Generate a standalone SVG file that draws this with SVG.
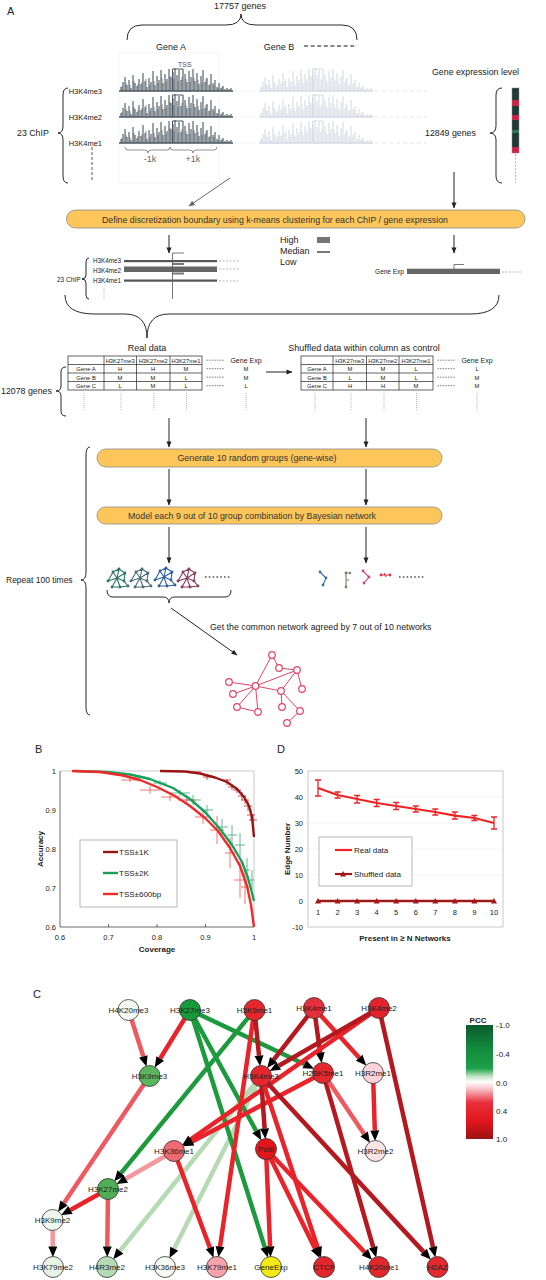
<svg xmlns="http://www.w3.org/2000/svg" xmlns:xlink="http://www.w3.org/1999/xlink" width="546" height="1280" viewBox="0 0 546 1280">
<style>
text{font-family:"Liberation Sans",Arial,sans-serif;fill:#222}
.f9{font-size:9px}
.f88{font-size:8.8px}
.f75{font-size:7.5px}
.f8{font-size:8px}
.f6{font-size:6px}
.b{font-weight:bold}
.m{text-anchor:middle}
.en{text-anchor:end}
.lbl{font-size:11px}
.box{fill:#fdc65a;stroke:#8c8c8c;stroke-width:0.8}
.ar{stroke:#222;stroke-width:1;fill:none;marker-end:url(#ak)}
.br{fill:none;stroke:#111;stroke-width:0.9}
.tb{fill:#fff;stroke:#222;stroke-width:0.7}
.dot{stroke:#888;stroke-width:0.6;stroke-dasharray:1,1;fill:none}
.dsh{stroke:#333;stroke-width:0.6;stroke-dasharray:1.6,1;fill:none}
.e{stroke-width:4.5;fill:none;marker-end:url(#ah)}
.dr{stroke:#b3191e}.r{stroke:#e8242a}.lr{stroke:#ee5a62}.pk{stroke:#f5979d}.g{stroke:#1d9a3e}.lg{stroke:#b6dbb4}
.n circle{stroke:#333;stroke-width:0.8}
.n text{font-size:8px;text-anchor:middle;fill:#222}
.net line{stroke:#e04466;stroke-width:1}
.net circle{fill:#fff;stroke:#e04466;stroke-width:1.2}
.eb{fill:none;stroke-width:0.8}
</style>
<defs>
<marker id="ak" markerUnits="userSpaceOnUse" markerWidth="6" markerHeight="5" refX="5.5" refY="2.5" orient="auto" overflow="visible"><path d="M0,0L6,2.5L0,5z" fill="#222"/></marker>
<marker id="akg" markerUnits="userSpaceOnUse" markerWidth="6" markerHeight="5" refX="5.5" refY="2.5" orient="auto" overflow="visible"><path d="M0,0L6,2.5L0,5z" fill="#666"/></marker>
<marker id="ah" markerUnits="userSpaceOnUse" markerWidth="11" markerHeight="9" refX="0" refY="4.5" orient="auto" overflow="visible"><path d="M0,0L10.5,4.5L0,9z" fill="#000"/></marker>
<linearGradient id="pcc" x1="0" y1="0" x2="0" y2="1">
<stop offset="0" stop-color="#0b5a2c"/><stop offset="0.2" stop-color="#128a3c"/><stop offset="0.38" stop-color="#1ca048"/><stop offset="0.45" stop-color="#bfe3c3"/><stop offset="0.5" stop-color="#ffffff"/><stop offset="0.56" stop-color="#f6c2c8"/><stop offset="0.68" stop-color="#e8303c"/><stop offset="0.85" stop-color="#e0141c"/><stop offset="1" stop-color="#9a1414"/>
</linearGradient>
<g id="hist" fill="none">
<path stroke-width="1.6" d="M0,0H114"/>
<path stroke-width="1.1" d="M2,0V-4M4,0V-9M6,0V-14M8,0V-6M10,0V-11M12,0V-3M14,0V-16M16,0V-8M18,0V-5M20,0V-12M22,0V-7M24,0V-18M26,0V-10M28,0V-4M30,0V-13M32,0V-9M34,0V-20M36,0V-6M38,0V-15M40,0V-11M42,0V-21M44,0V-8M46,0V-17M48,0V-12M50,0V-22M52,0V-14M54,0V-19M56,0V-23M58,0V-16M60,0V-21M62,0V-11M64,0V-22M66,0V-17M68,0V-9M70,0V-20M72,0V-14M74,0V-22M76,0V-10M78,0V-18M80,0V-7M82,0V-15M84,0V-21M86,0V-9M88,0V-13M90,0V-6M92,0V-17M94,0V-8M96,0V-11M98,0V-4M100,0V-8M102,0V-3M104,0V-5M106,0V-2M108,0V-3M110,0V-2M112,0V-3"/>
<path stroke-width="0.7" d="M3,0V-5M7,0V-8M11,0V-6M15,0V-10M19,0V-7M23,0V-9M27,0V-12M31,0V-6M35,0V-10M39,0V-8M43,0V-13M47,0V-9M51,0V-15M55,0V-12M59,0V-10M63,0V-14M67,0V-12M71,0V-9M75,0V-13M79,0V-11M83,0V-8M87,0V-12M91,0V-7M95,0V-6M99,0V-3M103,0V-4"/>
<path stroke-width="1" d="M53.5,0V-22H64"/>
</g>
<g id="sn">
<path fill="none" stroke="currentColor" stroke-width="1.1" d="M1,14L10,11M6,5L10,11M12,2L10,11M18,6L10,11M10,11L17,14M10,11L5,20M10,11L13,20M6,5L12,2L18,6L17,14L21,19L13,20L5,20M1,14L6,5"/>
<g fill="currentColor"><circle cx="1" cy="14" r="1.4"/><circle cx="6" cy="5" r="1.4"/><circle cx="12" cy="2" r="1.4"/><circle cx="18" cy="6" r="1.4"/><circle cx="17" cy="14" r="1.4"/><circle cx="5" cy="20" r="1.4"/><circle cx="13" cy="20" r="1.4"/><circle cx="21" cy="19" r="1.4"/></g>
</g>
</defs>
<rect width="546" height="1280" fill="#fff"/>

<!-- Panel A top -->
<g id="panelA-top">
<text x="7" y="15" class="lbl">A</text>
<text x="240" y="9" class="f9 m">17757 genes</text>
<path class="br" d="M127,40Q127,25 142,25L226,25Q241,25 241,14Q241,25 256,25L342,25Q357,25 357,40"/>
<text x="171" y="50" class="f9 m">Gene A</text>
<text x="279" y="50" class="f9 m">Gene B</text>
<path d="M304,46H357" stroke="#111" stroke-width="1.2" stroke-dasharray="4,2.6"/>
<rect x="119" y="53" width="100" height="130" fill="none" stroke="#ededed" stroke-width="0.6"/>
<text x="178" y="67" style="font-size:7px;fill:#556">TSS</text>
<text x="102" y="94" class="f75 en">H3K4me3</text>
<text x="102" y="120" class="f75 en">H3K4me2</text>
<text x="102" y="146" class="f75 en">H3K4me1</text>
<use xlink:href="#hist" x="119" y="91" stroke="#4b5862"/>
<use xlink:href="#hist" x="119" y="117" stroke="#4b5862"/>
<use xlink:href="#hist" x="119" y="143" stroke="#4b5862"/>
<use xlink:href="#hist" x="259" y="91" stroke="#d6dae3"/>
<use xlink:href="#hist" x="259" y="117" stroke="#d6dae3"/>
<use xlink:href="#hist" x="259" y="143" stroke="#d6dae3"/>
<path d="M235,91H257M235,117H257M235,143H257" stroke="#dde0e8" stroke-width="0.8" stroke-dasharray="1,1.5"/>
<path d="M375,91H427M375,117H427M375,143H427" stroke="#dde0e8" stroke-width="0.8" stroke-dasharray="4,3"/>
<path d="M125,147Q125,150 128,150L145,150Q148,150 148,153Q148,150 151,150L167,150Q170,150 170,147M170,147Q170,150 173,150L190,150Q193,150 193,153Q193,150 196,150L214,150Q217,150 217,147" fill="none" stroke="#777" stroke-width="0.8"/>
<text x="150" y="162" class="f9 m" style="fill:#666">-1k</text>
<text x="193" y="162" class="f9 m" style="fill:#666">+1k</text>
<path d="M92,147V182" stroke="#333" stroke-width="0.8" stroke-dasharray="3,2"/>
<text x="17" y="136" class="f88">23 ChIP</text>
<path class="br" d="M68,88Q63,88 63,95L63,126Q63,133 58,133Q63,133 63,140L63,176Q63,183 68,183"/>
<text x="432" y="75" class="f88">Gene expression level</text>
<g id="exprbar" stroke="none">
<rect x="512" y="88" width="7" height="65" fill="#1e3a34"/>
<rect x="512" y="100" width="7" height="6" fill="#d0204a"/>
<rect x="512" y="115" width="7" height="5" fill="#d0204a"/>
<rect x="512" y="130" width="7" height="3" fill="#2a7a50"/>
<rect x="512" y="147" width="7" height="6" fill="#d0204a"/>
<rect x="512" y="88" width="7" height="65" fill="none" stroke="#888" stroke-width="0.5"/>
</g>
<path d="M515.5,154V183" stroke="#888" stroke-width="0.6" stroke-dasharray="2,1.5"/>
<text x="425" y="136" class="f88">12849 genes</text>
<path class="br" d="M502,88Q496,88 496,95L496,126Q496,133 490,133Q496,133 496,140L496,176Q496,183 502,183"/>
</g>

<g id="connectors-flow">
<path d="M230,178L189,206" stroke="#666" stroke-width="1" fill="none" marker-end="url(#akg)"/>
<path class="ar" d="M454,172V208"/>
<path class="ar" d="M169,235V253"/>
<path class="ar" d="M454,235V253"/>
<path class="ar" d="M266,372H292"/>
<path class="ar" d="M169,418V447"/>
<path class="ar" d="M366,418V447"/>
<path class="ar" d="M169,469V505"/>
<path class="ar" d="M366,469V505"/>
<path class="ar" d="M169,527V563"/>
<path class="ar" d="M366,527V563"/>
<path class="ar" d="M171,608L237,655"/>
</g>

<g id="box1">
<rect class="box" x="66.5" y="210" width="458.5" height="18" rx="9"/>
<text x="275" y="222.5" class="f88 m" style="fill:#333">Define discretization boundary using k-means clustering for each ChIP / gene expression</text>
</g>

<g id="discretized">
<text x="280" y="243" class="f9">High</text>
<text x="280" y="254" class="f9">Median</text>
<text x="280" y="265" class="f9">Low</text>
<rect x="317" y="237" width="13" height="6" fill="#777"/>
<rect x="317" y="251" width="13" height="2" fill="#777"/>
<text x="121" y="263" class="f6 en" style="font-size:6.3px">H3K4me3</text>
<text x="121" y="273" class="f6 en" style="font-size:6.3px">H3K4me2</text>
<text x="121" y="283" class="f6 en" style="font-size:6.3px">H3K4me1</text>
<rect x="124" y="260" width="93" height="2.2" fill="#555"/>
<rect x="172" y="263" width="12" height="2" fill="#777"/>
<rect x="124" y="266.5" width="93" height="5.5" fill="#666"/>
<rect x="172" y="272.5" width="12" height="2" fill="#777"/>
<rect x="124" y="279.5" width="93" height="2.2" fill="#555"/>
<path d="M219,261H240M219,269H240M219,281H240" stroke="#888" stroke-width="0.6" stroke-dasharray="2,1.5"/>
<path d="M172.5,299V253H184" stroke="#555" stroke-width="0.8" fill="none"/>
<path class="dot" d="M104,288V299M172.5,288V299"/>
<text x="57" y="281.5" style="font-size:6.5px">23 ChIP</text>
<path class="br" d="M89,258Q86,258 86,262L86,275Q86,279 82,279Q86,279 86,283L86,295Q86,299 89,299" stroke-width="0.7"/>
<text x="404" y="274" class="en" style="font-size:6.5px">Gene Exp</text>
<rect x="407" y="268.7" width="93" height="5.3" fill="#666"/>
<path d="M454,269V264.5H464" stroke="#555" stroke-width="0.8" fill="none"/>
<path d="M502,272H521" stroke="#888" stroke-width="0.6" stroke-dasharray="2,1.5"/>
<path class="br" d="M65,295Q65,314 95,314L125,314Q147,314 147,338Q147,314 169,314L470,314Q499,314 499,295"/>
</g>

<g id="table-real">
<text x="147" y="351" class="f9 m">Real data</text>
<rect class="tb" x="68" y="356" width="134" height="34"/>
<path d="M68,364.5H202M68,373H202M68,381.5H202M104,356V390M136.5,356V390M170,356V390" stroke="#222" stroke-width="0.7"/>
<g class="f6 m" style="font-size:5.8px">
<text x="120.2" y="362.5">H3K27me3</text><text x="153.2" y="362.5">H3K27me2</text><text x="186" y="362.5">H3K27me1</text>
<text x="86" y="371">Gene A</text><text x="120" y="371">H</text><text x="153" y="371">H</text><text x="186" y="371">M</text>
<text x="86" y="379.5">Gene B</text><text x="120" y="379.5">M</text><text x="153" y="379.5">M</text><text x="186" y="379.5">L</text>
<text x="86" y="388">Gene C</text><text x="120" y="388">L</text><text x="153" y="388">M</text><text x="186" y="388">L</text>
<text x="246" y="371">M</text><text x="246" y="379.5">M</text><text x="246" y="388">L</text>
</g>
<text x="246" y="362.5" class="m" style="font-size:7px">Gene Exp</text>
<path class="dsh" d="M206.5,360.2H224M206.5,368.7H224M206.5,377.2H224M206.5,385.7H224"/>
<path class="dot" d="M84,393V410M121,393V410M154,393V410M186.5,393V410M246,393V410"/>
<text x="1" y="394" class="f88">12078 genes</text>
<path class="br" d="M66,367Q61,367 61,372L61,386Q61,391 56,391Q61,391 61,396L61,411Q61,416 66,416"/>
</g>

<g id="table-shuffled">
<text x="364" y="351" class="f9 m">Shuffled data within column as control</text>
<rect class="tb" x="301" y="356" width="132" height="34"/>
<path d="M301,364.5H433M301,373H433M301,381.5H433M333,356V390M366.5,356V390M399,356V390" stroke="#222" stroke-width="0.7"/>
<g class="f6 m" style="font-size:5.8px">
<text x="349.7" y="362.5">H3K27me3</text><text x="382.7" y="362.5">H3K27me2</text><text x="416" y="362.5">H3K27me1</text>
<text x="317" y="371">Gene A</text><text x="350" y="371">M</text><text x="383" y="371">M</text><text x="416" y="371">L</text>
<text x="317" y="379.5">Gene B</text><text x="350" y="379.5">L</text><text x="383" y="379.5">M</text><text x="416" y="379.5">L</text>
<text x="317" y="388">Gene C</text><text x="350" y="388">H</text><text x="383" y="388">H</text><text x="416" y="388">M</text>
<text x="477" y="371">L</text><text x="477" y="379.5">M</text><text x="477" y="388">M</text>
</g>
<text x="477" y="362.5" class="m" style="font-size:7px">Gene Exp</text>
<path class="dsh" d="M437.5,360.2H455M437.5,368.7H455M437.5,377.2H455M437.5,385.7H455"/>
<path class="dot" d="M315,393V410M351,393V410M384,393V410M416.5,393V410M477,393V410"/>
</g>

<g id="box2">
<rect class="box" x="97" y="449" width="345" height="18" rx="9"/>
<text x="257" y="461.3" class="f88 m" style="fill:#333">Generate 10 random groups (gene-wise)</text>
</g>
<g id="box3">
<rect class="box" x="97" y="507" width="345" height="17" rx="8.5"/>
<text x="252" y="518.8" class="f88 m" style="fill:#333">Model each 9 out of 10 group combination by Bayesian network</text>
</g>

<g id="repeat">
<text x="6" y="583" style="font-size:8.5px">Repeat 100 times</text>
<path class="br" d="M90,447Q86,447 86,455L86,572Q86,580 81,580Q86,580 86,588L86,707Q86,715 90,715"/>
</g>

<g id="small-networks">
<use xlink:href="#sn" x="107" y="567" color="#2e7563"/>
<use xlink:href="#sn" x="130" y="567" color="#4a6e74"/>
<use xlink:href="#sn" x="154" y="566" color="#2e5f9e"/>
<use xlink:href="#sn" x="177" y="567" color="#8a3c5c"/>
<path d="M205,577H231" stroke="#555" stroke-width="1.6" stroke-dasharray="1.6,2.2"/>
<g stroke-width="1.1" fill="none">
<path d="M320,572L326,578L323,585" stroke="#3a6ea5"/>
<path d="M346,573V587M346,573H350M346,580H349" stroke="#8a7a6a"/>
<path d="M363,571L369,577L364,583" stroke="#c04a80"/>
<path d="M381,575H390M384,573L386,577" stroke="#e0304a"/>
</g>
<g>
<circle cx="320" cy="572" r="1.4" fill="#3a6ea5"/><circle cx="326" cy="578" r="1.4" fill="#3a6ea5"/><circle cx="323" cy="585" r="1.4" fill="#3a6ea5"/>
<circle cx="346" cy="573" r="1.4" fill="#8a7a6a"/><circle cx="346" cy="587" r="1.4" fill="#8a7a6a"/><circle cx="350" cy="573" r="1.2" fill="#8a7a6a"/>
<circle cx="363" cy="571" r="1.4" fill="#c04a80"/><circle cx="369" cy="577" r="1.4" fill="#c04a80"/><circle cx="364" cy="583" r="1.4" fill="#c04a80"/>
<circle cx="381" cy="575" r="1.4" fill="#e0304a"/><circle cx="390" cy="575" r="1.4" fill="#e0304a"/>
</g>
<path d="M399,577H425" stroke="#555" stroke-width="1.6" stroke-dasharray="1.6,2.2"/>
<path class="br" d="M107,590Q107,597 113,597L163,597Q169,597 169,603Q169,597 175,597L225,597Q231,597 231,590"/>
<text x="210" y="630" class="f88">Get the common network agreed by 7 out of 10 networks</text>
</g>

<g id="common-network" class="net">
<line x1="272" y1="655" x2="279" y2="668"/><line x1="272" y1="655" x2="255.5" y2="686"/><line x1="279" y1="668" x2="297" y2="670"/>
<line x1="229" y1="682" x2="255.5" y2="686"/><line x1="233" y1="694" x2="255.5" y2="686"/><line x1="237" y1="707" x2="255.5" y2="686"/>
<line x1="258" y1="712" x2="255.5" y2="686"/><line x1="255.5" y1="686" x2="297" y2="670"/><line x1="255.5" y1="686" x2="281" y2="691"/>
<line x1="297" y1="670" x2="281" y2="691"/><line x1="297" y1="670" x2="302" y2="689"/><line x1="281" y1="691" x2="282" y2="707"/>
<line x1="237" y1="707" x2="258" y2="712"/><line x1="281" y1="691" x2="300" y2="711"/><line x1="300" y1="711" x2="287" y2="723"/>
<circle cx="272" cy="655" r="3.3"/><circle cx="279" cy="668" r="3.3"/><circle cx="297" cy="670" r="3.3"/><circle cx="229" cy="682" r="3.3"/>
<circle cx="255.5" cy="686" r="3.3"/><circle cx="302" cy="689" r="3.3"/><circle cx="281" cy="691" r="3.3"/><circle cx="233" cy="694" r="3.3"/>
<circle cx="237" cy="707" r="3.3"/><circle cx="258" cy="712" r="3.3"/><circle cx="282" cy="707" r="3.3"/><circle cx="300" cy="711" r="3.3"/>
<circle cx="287" cy="723" r="3.3"/>
</g>

<!-- Panel B -->
<g id="panelB">
<text x="35" y="753" class="lbl">B</text>
<path d="M60,771H254V927" fill="none" stroke="#bbb" stroke-width="0.8"/>
<path d="M60,771V927H254M108.5,927V924M157,927V924M205.5,927V924" fill="none" stroke="#444" stroke-width="0.8"/>
<g class="f75 en">
<text x="56" y="773.7">1</text><text x="56" y="812.7">0.9</text><text x="56" y="851.7">0.8</text><text x="56" y="890.7">0.7</text><text x="56" y="929.7">0.6</text>
</g>
<g class="f75 m">
<text x="60" y="940">0.6</text><text x="108.5" y="940">0.7</text><text x="157" y="940">0.8</text><text x="205.5" y="940">0.9</text><text x="254" y="940">1</text>
</g>
<text x="157" y="952" class="f8 b m">Coverage</text>
<text transform="translate(43,849) rotate(-90)" class="f8 b m">Accuracy</text>
<path class="eb" stroke="#b03030" d="M193,772H201M207,774V780M203,777H211M223,780H231M227,779V785M228,787H236M232,784V790M233,790H241M237,787V793M238,796H246M242,792V800M241,800H249M245,796V804M244,806H252M248,801V811M247,815H255M251,809V821M249,820H257M253,814V826"/>
<path class="eb" stroke="#3aa874" d="M135,777H145M140,775V779M153,783H167M160,780V786M170,793H190M180,790V796M185,800H201M193,795V805M201,810H213M207,805V815M216,827H228M222,819V835M227,835H237M232,825V845M235,845H245M240,833V857M244,870H250M247,858V882M250,880H254M252,870V890"/>
<path class="eb" stroke="#f05050" d="M121,780H139M130,778V782M140,790H160M150,786V794M161,797H179M170,793V801M178,800H196M187,795V805M195,817H211M203,810V824M210,830H224M217,816V844M225,853H235M230,838V868M234,880H246M240,862V898M241,887H249M245,870V904"/>
<polyline fill="none" stroke="#9a1414" stroke-width="2.4" stroke-linejoin="round" points="160,771 185,771.5 200,773.5 215,777.5 227,782 237,789 244,797 249,806 252,817 254,837"/>
<polyline fill="none" stroke="#17a05a" stroke-width="2.4" stroke-linejoin="round" points="75,771 107,772 130,774.5 150,779 173,788 190,799 205,812 220,829 232,845 242,862 248,878 252,893 254,901"/>
<polyline fill="none" stroke="#ee2a2a" stroke-width="2.4" stroke-linejoin="round" points="72,771 100,772 123,775.5 140,780 157,787 175,796 190,806 205,818 218,831 230,848 240,866 247,886 251,905 254,927"/>
<rect x="80" y="840" width="97" height="67" fill="#fff" stroke="#999" stroke-width="0.7"/>
<path d="M103,852H118" stroke="#9a1414" stroke-width="2.4"/>
<path d="M103,873H118" stroke="#17a05a" stroke-width="2.4"/>
<path d="M103,894H118" stroke="#ee2a2a" stroke-width="2.4"/>
<text x="119" y="855" class="f8">TSS±1K</text>
<text x="119" y="876" class="f8">TSS±2K</text>
<text x="119" y="897" class="f8">TSS±600bp</text>
</g>

<!-- Panel D -->
<g id="panelD">
<text x="277" y="753" class="lbl">D</text>
<path d="M308,797H503M308,823H503M308,849H503M308,875H503" stroke="#eee" stroke-width="0.6"/>
<rect x="308" y="771" width="195" height="156" fill="none" stroke="#bbb" stroke-width="0.8"/>
<g class="f75 en">
<text x="303" y="773.7">50</text><text x="303" y="799.7">40</text><text x="303" y="825.7">30</text><text x="303" y="851.7">20</text><text x="303" y="877.7">10</text><text x="303" y="903.7">0</text><text x="303" y="929.7">-10</text>
</g>
<g class="f75 m">
<text x="318" y="915">1</text><text x="337.6" y="915">2</text><text x="357.1" y="915">3</text><text x="376.7" y="915">4</text><text x="396.2" y="915">5</text><text x="415.8" y="915">6</text><text x="435.3" y="915">7</text><text x="454.9" y="915">8</text><text x="474.4" y="915">9</text><text x="494" y="915">10</text>
</g>
<text x="405" y="941" class="f8 b m">Present in ≥ N Networks</text>
<text transform="translate(290,849) rotate(-90)" class="f8 b m">Edge Number</text>
<polyline fill="none" stroke="#ee2222" stroke-width="2.2" stroke-linejoin="round" points="318,788 337.6,795 357.1,799 376.7,803 396.2,806 415.8,809 435.3,812 454.9,815.7 474.4,818 494,823"/>
<path fill="none" stroke="#ee2222" stroke-width="1.3" d="M318,780V796M315,780H321M315,796H321M337.6,792V798M334.6,792H340.6M334.6,798H340.6M357.1,795.5V803M354.1,795.5H360.1M354.1,803H360.1M376.7,799.5V806.5M373.7,799.5H379.7M373.7,806.5H379.7M396.2,802.5V809.5M393.2,802.5H399.2M393.2,809.5H399.2M415.8,806V812M412.8,806H418.8M412.8,812H418.8M435.3,809V815M432.3,809H438.3M432.3,815H438.3M454.9,812V819M451.9,812H457.9M451.9,819H457.9M474.4,815.5V820.5M471.4,815.5H477.4M471.4,820.5H477.4M494,817V829M491,817H497M491,829H497"/>
<path d="M318,901H494" stroke="#a01818" stroke-width="2.4"/>
<g fill="#a01818">
<path d="M315,903.5H321L318,898z"/><path d="M334.6,903.5H340.6L337.6,898z"/><path d="M354.1,903.5H360.1L357.1,898z"/><path d="M373.7,903.5H379.7L376.7,898z"/><path d="M393.2,903.5H399.2L396.2,898z"/><path d="M412.8,903.5H418.8L415.8,898z"/><path d="M432.3,903.5H438.3L435.3,898z"/><path d="M451.9,903.5H457.9L454.9,898z"/><path d="M471.4,903.5H477.4L474.4,898z"/><path d="M491,903.5H497L494,898z"/>
</g>
<rect x="319" y="837" width="93" height="49" fill="#fff" stroke="#999" stroke-width="0.7"/>
<path d="M335,850H352" stroke="#ee2222" stroke-width="2.2"/>
<path d="M335,874H352" stroke="#a01818" stroke-width="2.2"/>
<path d="M340,876.5H346L343,871z" fill="#a01818"/>
<text x="354" y="853" class="f8">Real data</text>
<text x="354" y="877" class="f8">Shuffled data</text>
</g>

<!-- Panel C -->
<text x="33" y="998" class="lbl">C</text>
<g id="edges">
<path class="e lg" d="M261,1076L119.9,1251"/>
<path class="e lg" d="M261,1076L174.2,1248.7"/>
<path class="e lr" d="M128.5,1010L143.3,1056.5"/>
<path class="e r" d="M190,1010L160.2,1058.5"/>
<path class="e g" d="M190,1010L304.5,1064.2"/>
<path class="e g" d="M190,1010L264.8,1247.4"/>
<path class="e g" d="M190,1010L256.2,1131"/>
<path class="e g" d="M254.5,1010L121,1173.1"/>
<path class="e r" d="M254.5,1010L220,1246.7"/>
<path class="e dr" d="M254.5,1010L259,1055.6"/>
<path class="e dr" d="M314,1008L273.6,1059.8"/>
<path class="e dr" d="M314,1008L320.2,1052.7"/>
<path class="e r" d="M314,1008L359.2,1057.8"/>
<path class="e dr" d="M379,1008L433,1247"/>
<path class="e r" d="M379,1008L190.8,1139.3"/>
<path class="e dr" d="M379,1008L278.8,1065.8"/>
<path class="e r" d="M323,1073L192.2,1141.5"/>
<path class="e dr" d="M261,1076L264.6,1128.5"/>
<path class="e r" d="M261,1076L317.6,1247.5"/>
<path class="e dr" d="M261,1076L423.6,1251.9"/>
<path class="e dr" d="M323,1073L373.3,1247.3"/>
<path class="e lr" d="M323,1073L364.1,1134"/>
<path class="e r" d="M373,1073L374.8,1130.5"/>
<path class="e r" d="M266,1149L270.1,1246.5"/>
<path class="e r" d="M266,1149L315,1248.6"/>
<path class="e r" d="M266,1149L364.8,1252.2"/>
<path class="e lr" d="M149.5,1076L64,1203"/>
<path class="e r" d="M108,1189L70.4,1210"/>
<path class="e pk" d="M174,1151L125.8,1178.8"/>
<path class="e r" d="M174,1151L209.9,1247.8"/>
<path class="e lr" d="M108,1189L107.3,1246.5"/>
<path class="e pk" d="M52.5,1220L52.8,1246.5"/>
</g>
<g id="nodes">
<g id="n-H4K20me3" class="n"><circle cx="128.5" cy="1010" r="10.5" fill="#f2f9f2"/><text x="128.5" y="1013">H4K20me3</text></g>
<g id="n-H3K27me3" class="n"><circle cx="190" cy="1010" r="10.5" fill="#17983a"/><text x="190" y="1013">H3K27me3</text></g>
<g id="n-H3K9me1" class="n"><circle cx="254.5" cy="1010" r="10.5" fill="#e5262b"/><text x="254.5" y="1013">H3K9me1</text></g>
<g id="n-H3K4me1" class="n"><circle cx="314" cy="1008" r="10.5" fill="#e4303a"/><text x="314" y="1011">H3K4me1</text></g>
<g id="n-H3K4me2" class="n"><circle cx="379" cy="1008" r="10.5" fill="#e3232b"/><text x="379" y="1011">H3K4me2</text></g>
<g id="n-H3K9me3" class="n"><circle cx="149.5" cy="1076" r="10.5" fill="#5ab55e"/><text x="149.5" y="1079">H3K9me3</text></g>
<g id="n-H3K4me3" class="n"><circle cx="261" cy="1076" r="10.5" fill="#e5262c"/><text x="261" y="1079">H3K4me3</text></g>
<g id="n-H2BK5me1" class="n"><circle cx="323" cy="1073" r="10.5" fill="#e3282e"/><text x="323" y="1076">H2BK5me1</text></g>
<g id="n-H3R2me1" class="n"><circle cx="373" cy="1073" r="10.5" fill="#fcd3d8"/><text x="373" y="1076">H3R2me1</text></g>
<g id="n-H3K36me1" class="n"><circle cx="174" cy="1151" r="10.5" fill="#ee6a70"/><text x="174" y="1154">H3K36me1</text></g>
<g id="n-PolII" class="n"><circle cx="266" cy="1149" r="10.5" fill="#e3141c"/><text x="266" y="1152">PolII</text></g>
<g id="n-H3R2me2" class="n"><circle cx="375.5" cy="1151" r="10.5" fill="#fde4e7"/><text x="375.5" y="1154">H3R2me2</text></g>
<g id="n-H3K27me2" class="n"><circle cx="108" cy="1189" r="10.5" fill="#4fae56"/><text x="108" y="1192">H3K27me2</text></g>
<g id="n-H3K9me2" class="n"><circle cx="52.5" cy="1220" r="10.5" fill="#eef8ee"/><text x="52.5" y="1223">H3K9me2</text></g>
<g id="n-H3K79me2" class="n"><circle cx="53" cy="1267" r="10.5" fill="#e6f4e6"/><text x="53" y="1270">H3K79me2</text></g>
<g id="n-H4R3me2" class="n"><circle cx="107" cy="1267" r="10.5" fill="#b5dbb5"/><text x="107" y="1270">H4R3me2</text></g>
<g id="n-H3K36me3" class="n"><circle cx="165" cy="1267" r="10.5" fill="#f4faf4"/><text x="165" y="1270">H3K36me3</text></g>
<g id="n-H3K79me1" class="n"><circle cx="217" cy="1267" r="10.5" fill="#f7a3ab"/><text x="217" y="1270">H3K79me1</text></g>
<g id="n-GeneExp" class="n"><circle cx="271" cy="1267" r="10.5" fill="#f5ea14"/><text x="271" y="1270">GeneExp</text></g>
<g id="n-CTCF" class="n"><circle cx="324" cy="1267" r="10.5" fill="#e3262c"/><text x="324" y="1270">CTCF</text></g>
<g id="n-H4K20me1" class="n"><circle cx="379" cy="1267" r="10.5" fill="#e3262c"/><text x="379" y="1270">H4K20me1</text></g>
<g id="n-H2AZ" class="n"><circle cx="437.5" cy="1267" r="10.5" fill="#e3282e"/><text x="437.5" y="1270">H2AZ</text></g>
</g>
<g id="pcc-legend">
<text x="478" y="1023" class="f8 b m">PCC</text>
<rect x="466" y="1025" width="27" height="114" fill="url(#pcc)"/>
<g class="f8">
<text x="496" y="1028">-1.0</text><text x="496" y="1057">-0.4</text><text x="496" y="1086">0.0</text><text x="496" y="1114">0.4</text><text x="496" y="1142">1.0</text>
</g>
</g>
</svg>
